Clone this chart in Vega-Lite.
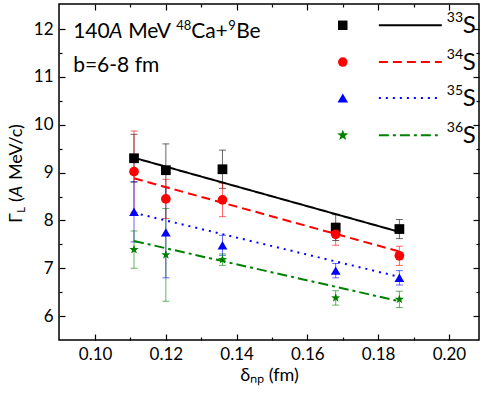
{
  "$schema": "https://vega.github.io/schema/vega-lite/v6.json",
  "width": 420,
  "height": 336,
  "autosize": {"type": "none"},
  "padding": {"left": 59, "top": 4, "right": 5, "bottom": 60},
  "background": "white",
  "config": {
    "font": "Lato",
    "view": {"stroke": "#000", "strokeWidth": 1.5},
    "axis": {"labelFont": "Lato", "labelFontSize": 17, "labelColor": "#000", "titleFont": "Lato", "titleFontSize": 18, "titleFontWeight": "normal", "titleColor": "#000", "grid": false, "domain": false, "tickColor": "#000", "tickWidth": 1.2}
  },
  "datasets": {
    "points": [
      {"iso": "33S", "x": 0.111, "y": 9.30, "lo": 8.80, "hi": 9.80},
      {"iso": "33S", "x": 0.120, "y": 9.05, "lo": 8.50, "hi": 9.60},
      {"iso": "33S", "x": 0.136, "y": 9.07, "lo": 8.67, "hi": 9.47},
      {"iso": "33S", "x": 0.168, "y": 7.85, "lo": 7.58, "hi": 8.12},
      {"iso": "33S", "x": 0.186, "y": 7.82, "lo": 7.62, "hi": 8.02},
      {"iso": "34S", "x": 0.111, "y": 9.02, "lo": 8.17, "hi": 9.87},
      {"iso": "34S", "x": 0.120, "y": 8.45, "lo": 8.04, "hi": 8.86},
      {"iso": "34S", "x": 0.136, "y": 8.43, "lo": 8.08, "hi": 8.78},
      {"iso": "34S", "x": 0.168, "y": 7.71, "lo": 7.48, "hi": 7.94},
      {"iso": "34S", "x": 0.186, "y": 7.26, "lo": 7.06, "hi": 7.46},
      {"iso": "35S", "x": 0.111, "y": 8.18, "lo": 7.55, "hi": 8.81},
      {"iso": "35S", "x": 0.120, "y": 7.75, "lo": 6.80, "hi": 8.70},
      {"iso": "35S", "x": 0.136, "y": 7.48, "lo": 7.27, "hi": 7.69},
      {"iso": "35S", "x": 0.168, "y": 6.95, "lo": 6.80, "hi": 7.10},
      {"iso": "35S", "x": 0.186, "y": 6.80, "lo": 6.65, "hi": 6.95},
      {"iso": "36S", "x": 0.111, "y": 7.39, "lo": 7.00, "hi": 7.78},
      {"iso": "36S", "x": 0.120, "y": 7.28, "lo": 6.31, "hi": 8.25},
      {"iso": "36S", "x": 0.136, "y": 7.18, "lo": 7.06, "hi": 7.30},
      {"iso": "36S", "x": 0.168, "y": 6.38, "lo": 6.23, "hi": 6.53},
      {"iso": "36S", "x": 0.186, "y": 6.35, "lo": 6.18, "hi": 6.52}
    ],
    "fits": [
      {"iso": "33S", "x": 0.111, "y": 9.31},
      {"iso": "33S", "x": 0.186, "y": 7.76},
      {"iso": "34S", "x": 0.111, "y": 8.88},
      {"iso": "34S", "x": 0.186, "y": 7.35},
      {"iso": "35S", "x": 0.111, "y": 8.16},
      {"iso": "35S", "x": 0.186, "y": 6.82},
      {"iso": "36S", "x": 0.111, "y": 7.57},
      {"iso": "36S", "x": 0.186, "y": 6.31}
    ],
    "one": [{"k": 1}]
  },
  "resolve": {"axis": {"x": "independent", "y": "independent"}},
  "layer": [
    {
      "data": {"name": "points"},
      "mark": {"type": "errorbar", "ticks": {"size": 7, "opacity": 0.6}, "rule": {"opacity": 0.6, "strokeWidth": 1}},
      "encoding": {
        "x": {"field": "x", "type": "quantitative", "scale": {"domain": [0.0898, 0.2085], "nice": false, "zero": false},
              "axis": {"orient": "bottom", "values": [0.10, 0.11, 0.12, 0.13, 0.14, 0.15, 0.16, 0.17, 0.18, 0.19, 0.20], "format": ".2f",
                       "labelExpr": "round(datum.value*100) % 2 == 0 ? datum.label : ''",
                       "title": "δₙₚ (fm)", "tickSize": {"condition": {"test": "round(datum.value*100) % 2 != 0", "value": -3}, "value": -6}, "labelPadding": 12, "titlePadding": 4}},
        "y": {"field": "lo", "type": "quantitative", "scale": {"domain": [5.5, 12.525], "nice": false, "zero": false},
              "axis": {"orient": "left", "values": [6, 6.5, 7, 7.5, 8, 8.5, 9, 9.5, 10, 10.5, 11, 11.5, 12], "format": ".0f",
                       "labelExpr": "datum.value % 1 == 0 ? datum.label : ''",
                       "title": null, "tickSize": {"condition": {"test": "datum.value % 1 != 0", "value": -3}, "value": -6}, "labelPadding": 12}},
        "y2": {"field": "hi"},
        "color": {"field": "iso", "type": "nominal", "scale": {"domain": ["33S", "34S", "35S", "36S"], "range": ["#000000", "#ff0000", "#0000ff", "#008000"]}, "legend": null}
      }
    },
    {
      "data": {"name": "fits"},
      "mark": {"type": "line", "strokeWidth": 2},
      "encoding": {
        "x": {"field": "x", "type": "quantitative",
              "axis": {"orient": "top", "values": [0.10, 0.11, 0.12, 0.13, 0.14, 0.15, 0.16, 0.17, 0.18, 0.19, 0.20], "labels": false, "title": null,
                       "tickSize": {"condition": {"test": "round(datum.value*100) % 2 != 0", "value": -3}, "value": -6}}},
        "y": {"field": "y", "type": "quantitative",
              "axis": {"orient": "right", "values": [6, 6.5, 7, 7.5, 8, 8.5, 9, 9.5, 10, 10.5, 11, 11.5, 12], "labels": false, "title": null,
                       "tickSize": {"condition": {"test": "datum.value % 1 != 0", "value": -3}, "value": -6}}},
        "color": {"field": "iso", "type": "nominal", "legend": null},
        "strokeDash": {"field": "iso", "type": "nominal", "scale": {"domain": ["33S", "34S", "35S", "36S"], "range": [[1, 0], [9, 5], [2, 5], [10, 4, 3, 4]]}, "legend": null}
      }
    },
    {
      "data": {"name": "points"},
      "mark": {"type": "point", "filled": true, "opacity": 1, "size": 85},
      "encoding": {
        "x": {"field": "x", "type": "quantitative", "axis": null},
        "y": {"field": "y", "type": "quantitative", "axis": null},
        "color": {"field": "iso", "type": "nominal", "legend": null},
        "shape": {"field": "iso", "type": "nominal", "scale": {"domain": ["33S", "34S", "35S", "36S"], "range": ["square", "circle", "triangle-up", "M0,-1L0.235,-0.324L0.951,-0.309L0.380,0.124L0.588,0.809L0,0.4L-0.588,0.809L-0.380,0.124L-0.951,-0.309L-0.235,-0.324Z"]}, "legend": null},
        "size": {"field": "iso", "type": "nominal", "scale": {"domain": ["33S", "34S", "35S", "36S"], "range": [95, 95, 115, 150]}, "legend": null}
      }
    },
    {"data": {"name": "one"}, "mark": {"type": "point", "filled": true, "opacity": 1, "size": 90, "shape": "square", "color": "#000000"},
     "encoding": {"x": {"datum": 0.170, "type": "quantitative", "axis": null}, "y": {"datum": 12.08, "type": "quantitative", "axis": null}}},
    {"data": {"name": "one"}, "mark": {"type": "point", "filled": true, "opacity": 1, "size": 90, "shape": "circle", "color": "#ff0000"},
     "encoding": {"x": {"datum": 0.170, "type": "quantitative", "axis": null}, "y": {"datum": 11.31, "type": "quantitative", "axis": null}}},
    {"data": {"name": "one"}, "mark": {"type": "point", "filled": true, "opacity": 1, "size": 110, "shape": "triangle-up", "color": "#0000ff"},
     "encoding": {"x": {"datum": 0.170, "type": "quantitative", "axis": null}, "y": {"datum": 10.56, "type": "quantitative", "axis": null}}},
    {"data": {"name": "one"}, "mark": {"type": "point", "filled": true, "opacity": 1, "size": 140, "shape": "M0,-1L0.235,-0.324L0.951,-0.309L0.380,0.124L0.588,0.809L0,0.4L-0.588,0.809L-0.380,0.124L-0.951,-0.309L-0.235,-0.324Z", "color": "#008000"},
     "encoding": {"x": {"datum": 0.170, "type": "quantitative", "axis": null}, "y": {"datum": 9.78, "type": "quantitative", "axis": null}}},
    {"data": {"name": "one"}, "mark": {"type": "rule", "strokeWidth": 2, "color": "#000000"},
     "encoding": {"x": {"datum": 0.1802, "type": "quantitative", "axis": null}, "x2": {"datum": 0.198}, "y": {"datum": 12.08, "type": "quantitative", "axis": null}}},
    {"data": {"name": "one"}, "mark": {"type": "rule", "strokeWidth": 2, "color": "#ff0000", "strokeDash": [9, 5]},
     "encoding": {"x": {"datum": 0.1802, "type": "quantitative", "axis": null}, "x2": {"datum": 0.198}, "y": {"datum": 11.31, "type": "quantitative", "axis": null}}},
    {"data": {"name": "one"}, "mark": {"type": "rule", "strokeWidth": 2, "color": "#0000ff", "strokeDash": [2, 5]},
     "encoding": {"x": {"datum": 0.1802, "type": "quantitative", "axis": null}, "x2": {"datum": 0.198}, "y": {"datum": 10.56, "type": "quantitative", "axis": null}}},
    {"data": {"name": "one"}, "mark": {"type": "rule", "strokeWidth": 2, "color": "#008000", "strokeDash": [10, 4, 3, 4]},
     "encoding": {"x": {"datum": 0.1802, "type": "quantitative", "axis": null}, "x2": {"datum": 0.198}, "y": {"datum": 9.78, "type": "quantitative", "axis": null}}},
    {"data": {"name": "one"}, "mark": {"type": "text", "text": "33", "font": "Lato", "fontSize": 14, "align": "left", "baseline": "middle", "dy": -7, "color": "#000"},
     "encoding": {"x": {"datum": 0.1994, "type": "quantitative", "axis": null}, "y": {"datum": 12.08, "type": "quantitative", "axis": null}}},
    {"data": {"name": "one"}, "mark": {"type": "text", "text": "34", "font": "Lato", "fontSize": 14, "align": "left", "baseline": "middle", "dy": -7, "color": "#000"},
     "encoding": {"x": {"datum": 0.1994, "type": "quantitative", "axis": null}, "y": {"datum": 11.31, "type": "quantitative", "axis": null}}},
    {"data": {"name": "one"}, "mark": {"type": "text", "text": "35", "font": "Lato", "fontSize": 14, "align": "left", "baseline": "middle", "dy": -7, "color": "#000"},
     "encoding": {"x": {"datum": 0.1994, "type": "quantitative", "axis": null}, "y": {"datum": 10.56, "type": "quantitative", "axis": null}}},
    {"data": {"name": "one"}, "mark": {"type": "text", "text": "36", "font": "Lato", "fontSize": 14, "align": "left", "baseline": "middle", "dy": -7, "color": "#000"},
     "encoding": {"x": {"datum": 0.1994, "type": "quantitative", "axis": null}, "y": {"datum": 9.78, "type": "quantitative", "axis": null}}},
    {"data": {"name": "one"}, "mark": {"type": "text", "text": "S", "font": "Lato", "fontSize": 24, "align": "left", "baseline": "middle", "dx": 16, "dy": 1, "color": "#000"},
     "encoding": {"x": {"datum": 0.1994, "type": "quantitative", "axis": null}, "y": {"datum": 12.08, "type": "quantitative", "axis": null}}},
    {"data": {"name": "one"}, "mark": {"type": "text", "text": "S", "font": "Lato", "fontSize": 24, "align": "left", "baseline": "middle", "dx": 16, "dy": 1, "color": "#000"},
     "encoding": {"x": {"datum": 0.1994, "type": "quantitative", "axis": null}, "y": {"datum": 11.31, "type": "quantitative", "axis": null}}},
    {"data": {"name": "one"}, "mark": {"type": "text", "text": "S", "font": "Lato", "fontSize": 24, "align": "left", "baseline": "middle", "dx": 16, "dy": 1, "color": "#000"},
     "encoding": {"x": {"datum": 0.1994, "type": "quantitative", "axis": null}, "y": {"datum": 10.56, "type": "quantitative", "axis": null}}},
    {"data": {"name": "one"}, "mark": {"type": "text", "text": "S", "font": "Lato", "fontSize": 24, "align": "left", "baseline": "middle", "dx": 16, "dy": 1, "color": "#000"},
     "encoding": {"x": {"datum": 0.1994, "type": "quantitative", "axis": null}, "y": {"datum": 9.78, "type": "quantitative", "axis": null}}},
    {"data": {"name": "one"}, "mark": {"type": "text", "text": "140", "font": "Lato", "fontSize": 21, "align": "left", "baseline": "alphabetic", "color": "#000"},
     "encoding": {"x": {"datum": 0.0938, "type": "quantitative", "axis": null}, "y": {"datum": 11.82, "type": "quantitative", "axis": null}}},
    {"data": {"name": "one"}, "mark": {"type": "text", "text": "A", "font": "Lato", "fontSize": 21, "fontStyle": "italic", "align": "left", "baseline": "alphabetic", "color": "#000", "dx": 36},
     "encoding": {"x": {"datum": 0.0938, "type": "quantitative", "axis": null}, "y": {"datum": 11.82, "type": "quantitative", "axis": null}}},
    {"data": {"name": "one"}, "mark": {"type": "text", "text": "MeV", "font": "Lato", "fontSize": 21, "align": "left", "baseline": "alphabetic", "color": "#000", "dx": 55},
     "encoding": {"x": {"datum": 0.0938, "type": "quantitative", "axis": null}, "y": {"datum": 11.82, "type": "quantitative", "axis": null}}},
    {"data": {"name": "one"}, "mark": {"type": "text", "text": "48", "font": "Lato", "fontSize": 13, "align": "left", "baseline": "alphabetic", "color": "#000", "dx": 103, "dy": -8},
     "encoding": {"x": {"datum": 0.0938, "type": "quantitative", "axis": null}, "y": {"datum": 11.82, "type": "quantitative", "axis": null}}},
    {"data": {"name": "one"}, "mark": {"type": "text", "text": "Ca+", "font": "Lato", "fontSize": 21, "align": "left", "baseline": "alphabetic", "color": "#000", "dx": 118},
     "encoding": {"x": {"datum": 0.0938, "type": "quantitative", "axis": null}, "y": {"datum": 11.82, "type": "quantitative", "axis": null}}},
    {"data": {"name": "one"}, "mark": {"type": "text", "text": "9", "font": "Lato", "fontSize": 13, "align": "left", "baseline": "alphabetic", "color": "#000", "dx": 155, "dy": -8},
     "encoding": {"x": {"datum": 0.0938, "type": "quantitative", "axis": null}, "y": {"datum": 11.82, "type": "quantitative", "axis": null}}},
    {"data": {"name": "one"}, "mark": {"type": "text", "text": "Be", "font": "Lato", "fontSize": 21, "align": "left", "baseline": "alphabetic", "color": "#000", "dx": 163},
     "encoding": {"x": {"datum": 0.0938, "type": "quantitative", "axis": null}, "y": {"datum": 11.82, "type": "quantitative", "axis": null}}},
    {"data": {"name": "one"}, "mark": {"type": "text", "text": "b=6-8 fm", "font": "Lato", "fontSize": 21, "align": "left", "baseline": "alphabetic", "color": "#000"},
     "encoding": {"x": {"datum": 0.0938, "type": "quantitative", "axis": null}, "y": {"datum": 11.10, "type": "quantitative", "axis": null}}},
    {"data": {"name": "one"}, "mark": {"type": "text", "text": "Γ", "font": "Lato", "fontSize": 18, "angle": 270, "align": "left", "baseline": "middle", "color": "#000"},
     "encoding": {"x": {"datum": 0.0780, "type": "quantitative", "axis": null}, "y": {"datum": 7.944, "type": "quantitative", "axis": null}}},
    {"data": {"name": "one"}, "mark": {"type": "text", "text": "L", "font": "Lato", "fontSize": 11, "angle": 270, "align": "left", "baseline": "middle", "color": "#000"},
     "encoding": {"x": {"datum": 0.0794, "type": "quantitative", "axis": null}, "y": {"datum": 8.16, "type": "quantitative", "axis": null}}},
    {"data": {"name": "one"}, "mark": {"type": "text", "text": "(", "font": "Lato", "fontSize": 18, "angle": 270, "align": "left", "baseline": "middle", "color": "#000"},
     "encoding": {"x": {"datum": 0.0780, "type": "quantitative", "axis": null}, "y": {"datum": 8.383, "type": "quantitative", "axis": null}}},
    {"data": {"name": "one"}, "mark": {"type": "text", "text": "A", "font": "Lato", "fontSize": 18, "fontStyle": "italic", "angle": 270, "align": "left", "baseline": "middle", "color": "#000"},
     "encoding": {"x": {"datum": 0.0780, "type": "quantitative", "axis": null}, "y": {"datum": 8.488, "type": "quantitative", "axis": null}}},
    {"data": {"name": "one"}, "mark": {"type": "text", "text": "MeV/c)", "font": "Lato", "fontSize": 18, "angle": 270, "align": "left", "baseline": "middle", "color": "#000"},
     "encoding": {"x": {"datum": 0.0780, "type": "quantitative", "axis": null}, "y": {"datum": 8.843, "type": "quantitative", "axis": null}}}
  ]
}
